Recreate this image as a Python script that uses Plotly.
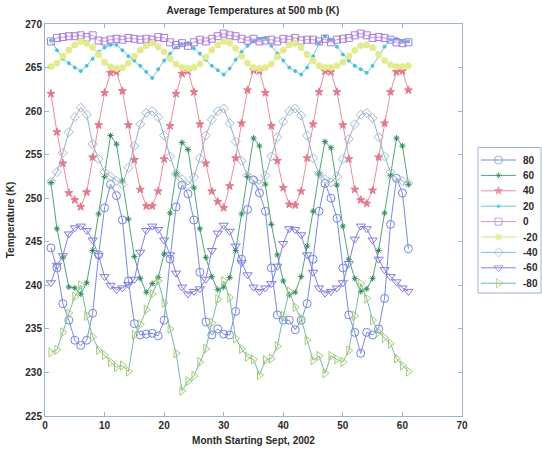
import plotly.graph_objects as go

months = list(range(1, 62))

lat_labels = ["80", "60", "40", "20", "0", "-20", "-40", "-60", "-80"]

t_80 = [244.3, 242.0, 237.9, 236.0, 233.7, 233.1, 233.7, 236.8, 243.5, 248.9,
        251.6, 250.3, 247.5, 240.5, 235.6, 234.3, 234.4, 234.5, 234.2, 236.0,
        243.0, 249.0, 251.5, 250.5, 247.5, 241.5, 235.8, 234.3, 235.0, 234.4,
        234.3, 237.0, 243.0, 248.7, 252.1, 250.6, 248.5, 242.0, 236.6, 236.0,
        236.0, 234.9, 236.0, 237.9, 243.0, 248.5, 251.7, 250.0, 247.7, 242.0,
        236.6, 234.6, 232.2, 234.6, 234.3, 235.0, 238.5, 247.0, 252.3, 250.6,
        244.2]
t_60 = [251.8, 246.5, 243.2, 239.8, 239.7, 239.0, 240.3, 244.0, 248.2, 252.5,
        257.2, 256.2, 252.0, 247.6, 243.3, 240.8, 239.2, 240.2, 240.9, 243.6,
        248.3, 252.8, 256.4, 255.6, 251.2, 246.5, 243.2, 241.0, 239.5, 239.8,
        240.9, 244.0, 248.2, 252.5, 256.9, 256.0, 251.6, 247.0, 243.5, 240.5,
        238.9, 239.2, 241.0, 244.5, 248.5, 252.8, 256.5, 255.8, 251.5, 246.8,
        243.0, 240.8, 239.3, 239.6, 240.8, 244.0, 248.3, 252.6, 256.9, 256.0,
        251.6]
t_40 = [262.0, 257.6, 254.0, 250.6, 249.8, 249.0, 250.7, 254.7, 258.4, 262.1,
        264.4, 264.5, 262.3, 258.4, 254.4, 251.0, 249.1, 249.1, 250.8, 254.5,
        258.3, 262.0, 264.3, 264.6, 262.2, 258.5, 254.0, 250.8, 249.6, 248.9,
        251.4, 254.6, 258.6, 262.4, 264.7, 264.6, 262.1, 258.3, 254.3, 251.2,
        249.3, 249.2, 250.8, 254.6, 258.5, 262.2, 264.6, 264.5, 262.2, 258.4,
        254.5, 251.0, 249.8, 249.4, 250.9, 254.7, 258.6, 262.2, 264.5, 264.6,
        262.4]
t_20 = [268.1, 267.0, 266.0, 265.5, 265.0, 264.6, 265.2, 266.0, 266.8, 267.3,
        267.6, 267.6, 267.0, 266.3, 265.8, 265.2, 264.5, 263.8, 264.8, 265.8,
        266.6, 267.3, 267.7, 267.8, 267.2, 266.6, 265.9, 265.2, 264.7, 264.2,
        264.9, 265.9, 266.8, 267.5, 268.0, 268.3, 268.4, 267.5, 266.6, 265.8,
        265.0, 264.6, 264.2, 265.0, 266.3, 267.8, 268.6, 268.2, 267.4, 266.5,
        265.8, 265.2, 264.8, 264.4, 265.2, 266.3, 267.4, 268.2, 268.3, 268.0,
        268.0]
t_0 = [268.0, 268.4, 268.5, 268.6, 268.6, 268.7, 268.5, 268.7, 268.1, 268.0,
       268.2, 268.3, 268.2, 268.4, 268.3, 268.2, 268.3, 268.2, 268.5, 268.4,
       267.9, 267.6, 267.8, 267.5, 267.9, 268.2, 268.0, 268.3, 268.6, 268.9,
       268.7, 268.6, 268.3, 268.1, 268.3, 268.0, 268.1, 268.2, 268.0, 268.3,
       268.2, 268.4, 268.1, 268.2, 268.2, 268.0, 268.3, 267.9, 268.2, 268.3,
       268.4, 268.7, 268.9, 268.7, 268.4, 268.5, 268.4, 268.2, 267.9, 267.8,
       267.9]
t_m20 = [265.1, 265.5, 266.3, 267.0, 267.6, 268.0, 267.8, 267.3, 266.5, 265.6,
         265.1, 264.9, 265.0, 265.5, 266.3, 267.0, 267.5, 267.8, 267.4, 266.8,
         266.0, 265.4, 265.0, 264.9, 265.0, 265.4, 266.2, 267.0, 267.6, 268.0,
         267.8, 267.2, 266.3, 265.5, 265.0, 264.9, 265.0, 265.4, 266.2, 267.0,
         267.6, 267.8, 267.3, 266.5, 265.8, 265.2, 265.0, 265.0, 265.2, 265.6,
         266.3, 267.0, 267.5, 267.6, 267.3, 266.5, 265.8, 265.3, 265.1, 265.1,
         265.2]
t_m40 = [251.9, 253.0, 255.2, 257.6, 259.3, 260.4, 259.6, 256.2, 254.5, 253.0,
         252.5, 252.0, 251.6, 253.5, 256.0, 258.5, 259.8, 260.0, 259.3, 257.2,
         254.8, 252.8, 252.2, 251.5, 252.4, 254.6, 257.2, 259.0, 260.0, 260.3,
         258.6, 256.5, 254.3, 252.6, 252.0, 251.6, 252.6, 254.8, 257.0, 258.8,
         260.0, 260.3, 259.5, 257.2, 254.6, 252.8, 252.2, 251.8, 252.5, 254.5,
         256.8, 258.5, 259.6, 259.8, 259.2, 257.0, 254.8, 253.0, 252.3, 252.0,
         251.7]
t_m60 = [240.3, 242.3, 243.4, 245.9, 246.6, 246.8, 246.3, 245.2, 243.4, 241.0,
         240.0, 239.5, 239.7, 240.1, 240.7, 243.8, 246.3, 246.8, 246.4, 245.2,
         243.5, 241.4, 239.8, 239.0, 239.3, 239.6, 240.7, 244.0, 246.0, 246.9,
         246.2, 244.5, 242.6, 241.2, 239.8, 239.3, 239.7, 240.2, 242.2, 244.8,
         246.5, 246.4, 245.8, 243.5, 241.5, 239.7, 239.1, 239.3, 239.7, 240.3,
         242.5, 245.3, 246.8, 246.5, 245.2, 243.0, 241.8, 241.0, 240.4, 239.7,
         239.3]
t_m80 = [232.3, 232.6, 234.6, 236.8, 238.7, 240.0, 236.5, 234.1, 232.6, 232.0,
         231.2, 230.6, 230.8, 230.1, 234.3, 235.5, 237.2, 239.0, 240.5, 238.0,
         235.0, 232.2, 227.9, 229.0, 229.6, 231.2, 232.7, 235.7, 238.4, 240.5,
         238.6, 233.9, 232.7, 231.8, 231.5, 229.7, 231.4, 231.6, 233.0, 236.5,
         239.3, 237.5, 236.2, 233.7, 231.4, 231.9, 229.9, 231.9, 231.5, 231.2,
         232.5, 236.5, 240.2, 238.5, 236.0, 234.6, 234.0, 233.3, 231.6, 230.8,
         230.1]

series = [t_80, t_60, t_40, t_20, t_0, t_m20, t_m40, t_m60, t_m80]

styles = [
    dict(line="#7a8ce2", symbol="circle-open", size=8, mcolor="#7284e0"),
    dict(line="#52a478", symbol="asterisk-open", size=5, mcolor="#2f8a56"),
    dict(line="#ea8ea0", symbol="star", size=6, mcolor="#e27a8c"),
    dict(line="#64cce2", symbol="circle", size=3, mcolor="#4cc0da"),
    dict(line="#e68cda", symbol="square-open", size=7, mcolor="#a47ee0"),
    dict(line="#dbe27a", symbol="circle", size=6, mcolor="#e4eb8e"),
    dict(line="#94b0ce", symbol="diamond-open", size=7, mcolor="#a4b6ce"),
    dict(line="#8282e2", symbol="triangle-down-open", size=8, mcolor="#827ade"),
    dict(line="#72bca6", symbol="triangle-right-open", size=8, mcolor="#a8ca70"),
]

W, H = 542, 452
# main plot area in pixels
PX0, PX1, PY0, PY1 = 45, 462, 24, 416
# legend box in pixels
LX0, LX1, LY0, LY1 = 478, 541, 147.5, 293

axis_color = "#9db4cc"
txt = "#2a2a2a"
FAM = "Liberation Sans"

fig = go.Figure()
for name, vals, st in zip(lat_labels, series, styles):
    fig.add_trace(go.Scatter(
        x=months, y=vals, name=name, mode="lines+markers", showlegend=False,
        line=dict(color=st["line"], width=1),
        marker=dict(symbol=st["symbol"], size=st["size"], color=st["mcolor"],
                    line=dict(color=st["mcolor"], width=1)),
    ))

# custom MATLAB-style legend drawn on a helper axis measured in pixels
step = 15.4
first = 160.0
sx0, sxm, sx1 = 481.0, 498.5, 516.0
annotations = []
for i, (name, st) in enumerate(zip(lat_labels, styles)):
    yy = first + step * i
    fig.add_trace(go.Scatter(
        x=[sx0, sxm, sx1], y=[yy, yy, yy], mode="lines+markers", showlegend=False,
        xaxis="x2", yaxis="y2", hoverinfo="skip",
        line=dict(color=st["line"], width=1),
        marker=dict(symbol=st["symbol"], size=[0, st["size"], 0], color=st["mcolor"],
                    line=dict(color=st["mcolor"], width=1)),
    ))
    annotations.append(dict(x=521, y=yy, xref="x2", yref="y2", text="<b>%s</b>" % name,
                            showarrow=False, xanchor="left", yanchor="middle",
                            font=dict(family=FAM, size=10, color=txt)))

fig.update_layout(
    width=W, height=H,
    margin=dict(l=0, r=0, t=0, b=0),
    paper_bgcolor="white", plot_bgcolor="rgba(0,0,0,0)",
    font=dict(family=FAM, size=10, color=txt),
    title=dict(text="<b>Average Temperatures at 500 mb (K)</b>", x=253 / W, xanchor="center",
               y=1 - 10 / H, yanchor="middle", font=dict(family=FAM, size=10, color=txt)),
    showlegend=False,
    xaxis=dict(domain=[PX0 / W, PX1 / W], range=[0, 70], dtick=10, tick0=0,
               showgrid=False, zeroline=False, automargin=False,
               showline=True, linecolor=axis_color, linewidth=1, mirror="ticks",
               ticks="inside", ticklen=4, tickcolor=axis_color,
               tickfont=dict(family=FAM, size=10, color=txt, weight="bold"),
               title=dict(text="<b>Month Starting Sept, 2002</b>", standoff=6,
                          font=dict(family=FAM, size=10, color=txt))),
    yaxis=dict(domain=[1 - PY1 / H, 1 - PY0 / H], range=[225, 270], dtick=5, tick0=225,
               showgrid=False, zeroline=False, automargin=False,
               showline=True, linecolor=axis_color, linewidth=1, mirror="ticks",
               ticks="inside", ticklen=4, tickcolor=axis_color,
               tickfont=dict(family=FAM, size=10, color=txt, weight="bold"),
               title=dict(text="<b>Temperature (K)</b>", standoff=8,
                          font=dict(family=FAM, size=10, color=txt))),
    xaxis2=dict(domain=[LX0 / W, LX1 / W], range=[LX0, LX1], visible=False,
                fixedrange=True, anchor="y2"),
    yaxis2=dict(domain=[1 - LY1 / H, 1 - LY0 / H], range=[LY1, LY0], visible=False,
                fixedrange=True, anchor="x2"),
    shapes=[dict(type="rect", xref="paper", yref="paper",
                 x0=LX0 / W, x1=LX1 / W, y0=1 - LY1 / H, y1=1 - LY0 / H,
                 line=dict(color=axis_color, width=1), fillcolor="rgba(0,0,0,0)",
                 layer="below")],
    annotations=annotations,
)

fig.write_html(
    "out.html",
    config={"displayModeBar": False, "staticPlot": True},
    post_script="document.body.style.margin='0';document.body.style.overflow='hidden';",
)
